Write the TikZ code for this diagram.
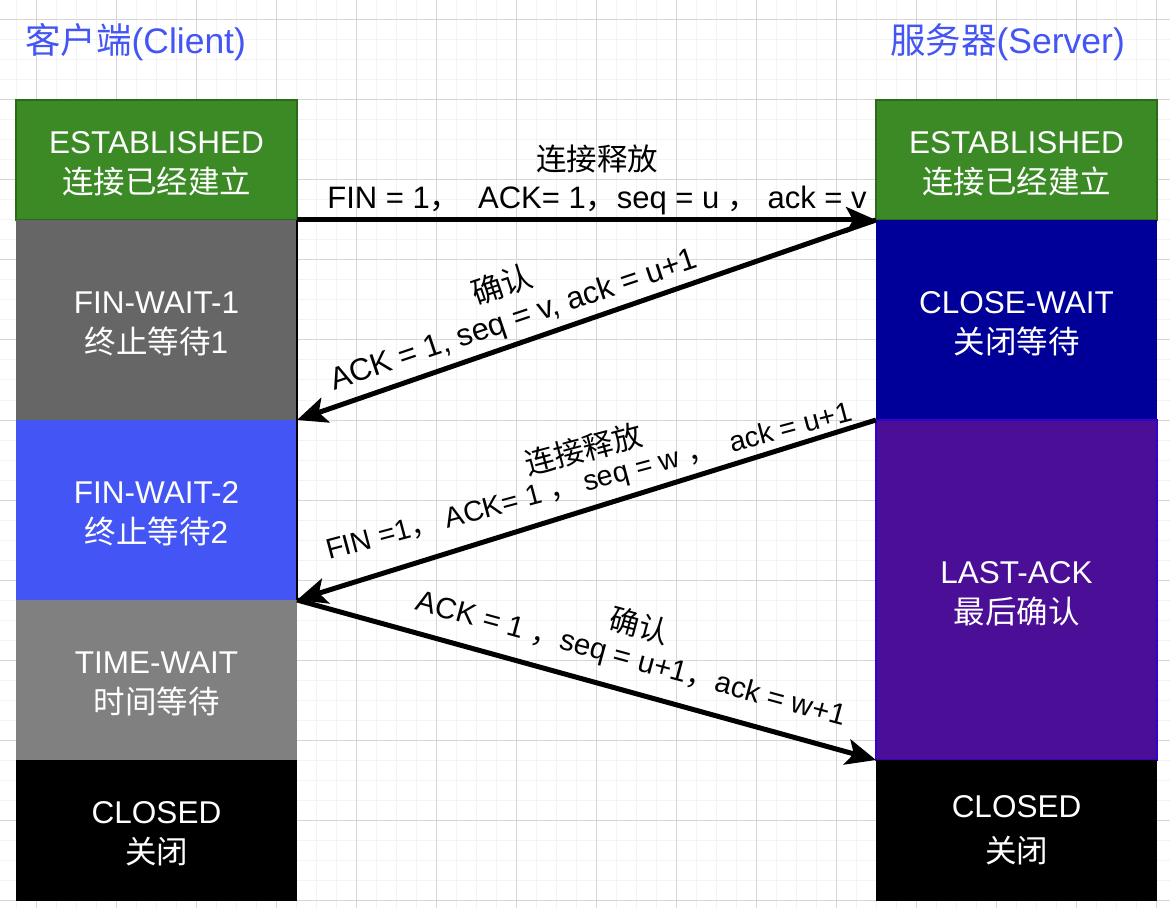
\documentclass[tikz,border=0pt]{standalone}
\usepackage{fontspec}
\setmainfont{Liberation Sans}
\newfontfamily\cjkfont{Noto Sans CJK SC}
\newcommand\zhtxt[1]{{\cjkfont #1}}
\newcommand\firstline{\rule{0pt}{14.5pt}}
\usetikzlibrary{arrows.meta}

\definecolor{gridminor}{HTML}{F3F3F3}
\definecolor{gridmajor}{HTML}{D6D6D6}
\definecolor{estfill}{HTML}{3B8A26}
\definecolor{estline}{HTML}{2B6A17}
\definecolor{fwonefill}{HTML}{666666}
\definecolor{fwtwofill}{HTML}{4455F5}
\definecolor{twfill}{HTML}{808080}
\definecolor{cwfill}{HTML}{000099}
\definecolor{lafill}{HTML}{4B0E96}
\definecolor{laline}{HTML}{3700CC}
\definecolor{headblue}{HTML}{4455F5}

\begin{document}
\begin{tikzpicture}[x=0.5pt, y=-0.5pt,
  state/.style={rectangle, inner sep=0pt, outer sep=0pt, minimum width=140.5pt,
    text=white, align=center, font=\fontsize{15.75pt}{20pt}\selectfont},
  msg/.style={line width=2.5pt, draw=black,
    -{Stealth[length=15pt, width=13pt, inset=3.5pt]}},
  lbl/.style={anchor=base, inner sep=0pt, text=black},
  head/.style={anchor=base, inner sep=0pt, text=headblue,
    font=\fontsize{17.75pt}{20pt}\selectfont}]

\useasboundingbox (0,0) rectangle (1170,908);
\fill[white] (0,0) rectangle (1170,908);

% background grid
\foreach \gx in {16,36,...,1170} \draw[gridminor, line width=0.5pt] (\gx,0) -- (\gx,908);
\foreach \gy in {0,20,...,908} \draw[gridminor, line width=0.5pt] (0,\gy) -- (1170,\gy);
\foreach \gx in {36,116,...,1170} \draw[gridmajor, line width=0.5pt] (\gx,0) -- (\gx,908);
\foreach \gy in {20,100,...,908} \draw[gridmajor, line width=0.5pt] (0,\gy) -- (1170,\gy);

% column titles
\node[head] (tclient) at (135.5,53.5) {\zhtxt{客户端}(Client)};
\node[head] (tserver) at (1007.5,53.5) {\zhtxt{服务器}(Server)};

% client states
\node[state, fill=estfill, draw=estline, line width=1pt, minimum height=60pt]
  (lest) at (156.5,160) {\firstline ESTABLISHED\\\zhtxt{连接已经建立}};
\node[state, fill=fwonefill, minimum height=100pt]
  (lfw1) at (156.5,320) {\firstline FIN-WAIT-1\\\zhtxt{终止等待}1};
\node[state, fill=fwtwofill, minimum height=90pt]
  (lfw2) at (156.5,510) {\firstline FIN-WAIT-2\\\zhtxt{终止等待}2};
\node[state, fill=twfill, minimum height=80pt]
  (ltw) at (156.5,680) {\firstline TIME-WAIT\\\zhtxt{时间等待}};
\node[state, fill=black, minimum height=70.5pt]
  (lcl) at (156.5,830.25) {\firstline CLOSED\\\zhtxt{关闭}};
\draw[black, line width=1pt] (lfw1.north east) -- (lfw2.south east);

% server states
\node[state, fill=estfill, draw=estline, line width=1pt, minimum height=60pt]
  (rest) at (1016.5,160) {\firstline ESTABLISHED\\\zhtxt{连接已经建立}};
\node[state, fill=cwfill, minimum height=100pt]
  (rcw) at (1016.5,320) {\firstline CLOSE-WAIT\\\zhtxt{关闭等待}};
\node[state, fill=lafill, draw=laline, line width=0.75pt, minimum height=170pt]
  (rla) at (1016.5,590) {\firstline LAST-ACK\\\zhtxt{最后确认}};
\node[state, fill=black, minimum height=70.5pt]
  (rcl) at (1016.5,830.25) {CLOSED\\[2.5pt]\zhtxt{关闭}};

% segments exchanged
\draw[msg] (lest.south east) -- (rest.south west);
\draw[msg] (rest.south west) -- (lfw1.south east);
\draw[msg] (rcw.south west) -- (lfw2.south east);
\draw[msg] (lfw2.south east) -- (rla.south west);

% labels of the first segment
\node[lbl, font=\fontsize{15.25pt}{18pt}\selectfont] (m1a) at (597,171) {\zhtxt{连接释放}};
\node[lbl, font=\fontsize{15.5pt}{18pt}\selectfont] (m1b) at (597,209)
  {FIN = 1\zhtxt{，}\ \ ACK= 1\zhtxt{，}seq = u \zhtxt{，}\ ack = v};

% labels of the second segment
\node[lbl, rotate=18.6, font=\fontsize{15.5pt}{18pt}\selectfont] (m2a) at (505.4,295.8) {\zhtxt{确认}};
\node[lbl, rotate=18.6, font=\fontsize{15.5pt}{18pt}\selectfont] (m2b) at (516.7,328.8)
  {ACK = 1, seq = v, ack = u+1};

% labels of the third segment
\node[lbl, rotate=14.9, font=\fontsize{15pt}{18pt}\selectfont] (m3a) at (586.6,460.1) {\zhtxt{连接释放}};
\node[lbl, rotate=14.9, font=\fontsize{14.25pt}{18pt}\selectfont] (m3b) at (591.2,490)
  {FIN =1\zhtxt{，}\ ACK= 1 \zhtxt{，}\ seq = w \zhtxt{，}\ \ ack = u+1};

% labels of the fourth segment
\node[lbl, rotate=-15.2, font=\fontsize{15pt}{18pt}\selectfont] (m4a) at (636.4,636.6) {\zhtxt{确认}};
\node[lbl, rotate=-15.2, font=\fontsize{14.75pt}{18pt}\selectfont] (m4b) at (629,668)
  {ACK = 1 \zhtxt{，}seq = u+1\zhtxt{，}ack = w+1};

\end{tikzpicture}
\end{document}
